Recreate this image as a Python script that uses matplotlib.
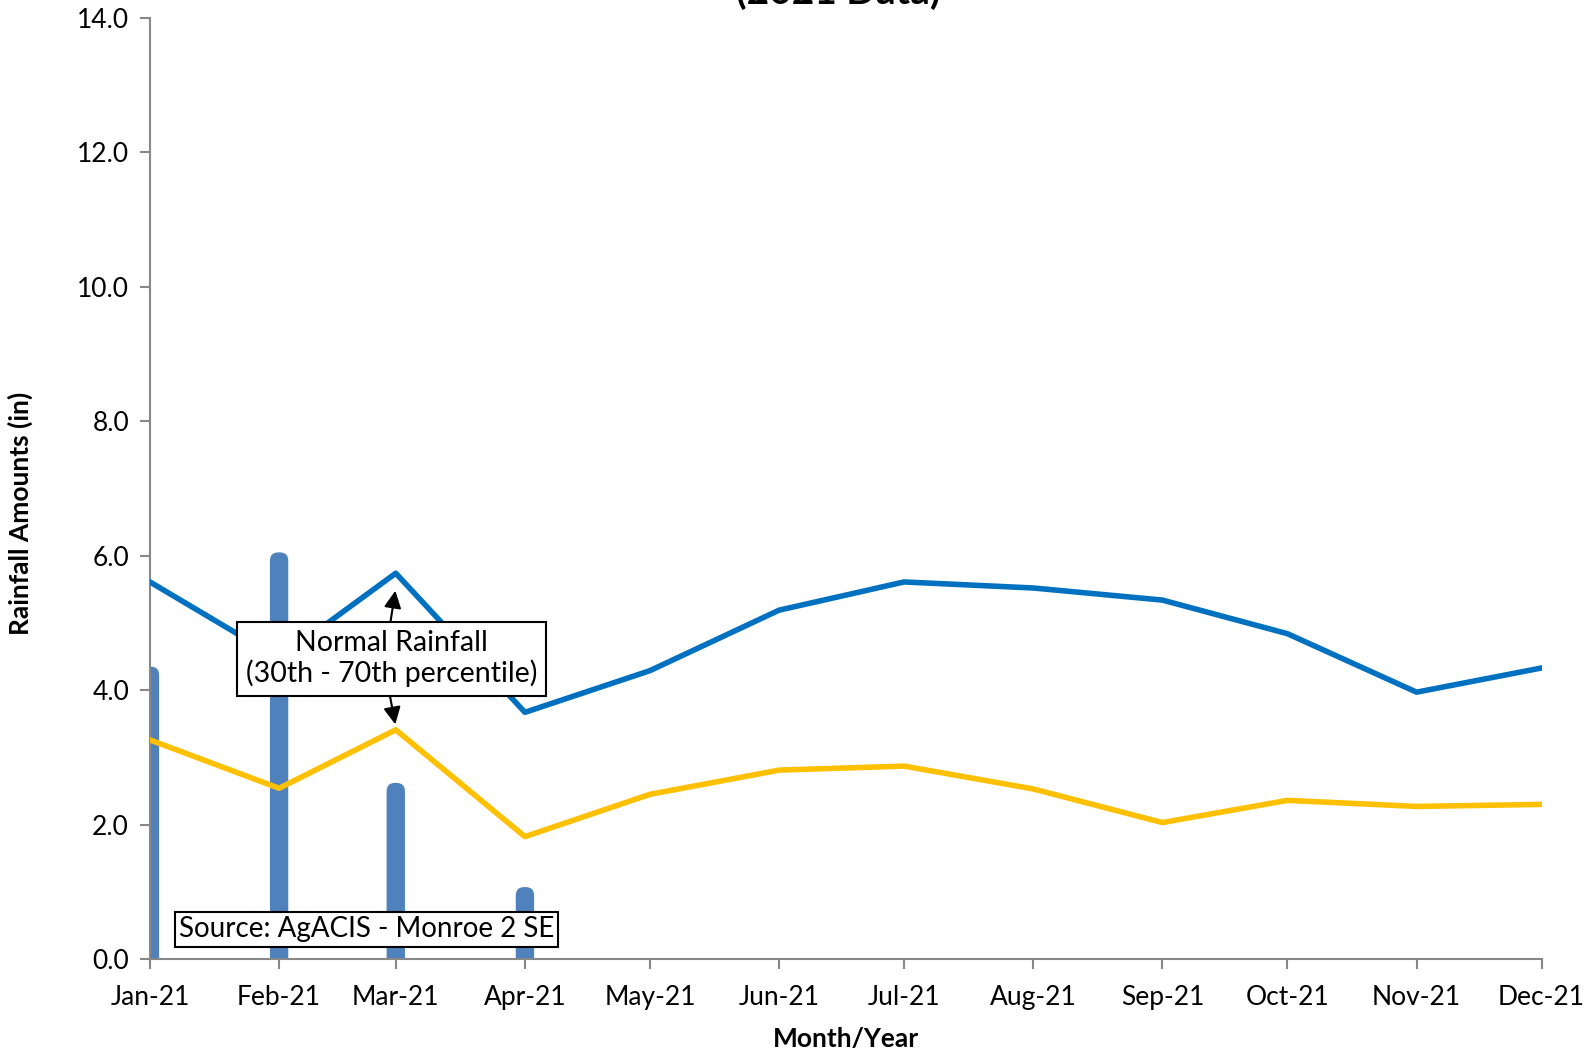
import matplotlib
matplotlib.use("Agg")
import matplotlib.pyplot as plt
from matplotlib.patches import FancyBboxPatch
from datetime import datetime

plt.rcParams['font.family'] = ['Lato', 'DejaVu Sans']

months = ['Jan-21', 'Feb-21', 'Mar-21', 'Apr-21', 'May-21', 'Jun-21',
          'Jul-21', 'Aug-21', 'Sep-21', 'Oct-21', 'Nov-21', 'Dec-21']
dates = [datetime(2021, m, 1) for m in range(1, 13)]

# observed monthly rainfall (only Jan-Apr reported)
rain_dates = dates[:4]
rain = [4.35, 6.05, 2.62, 1.07]

# normal rainfall band
p70 = [5.61, 4.47, 5.74, 3.67, 4.29, 5.19, 5.61, 5.52, 5.34, 4.84, 3.97, 4.33]
p30 = [3.26, 2.54, 3.41, 1.82, 2.45, 2.81, 2.87, 2.53, 2.03, 2.36, 2.27, 2.30]

fig = plt.figure(figsize=(15.85, 10.62), dpi=100)
ax = fig.add_axes([0.0946, 0.097, 0.878, 0.886])

bars = ax.bar(rain_dates, rain, width=4.4, color='#4F81BD', zorder=2)
# swap the square bars for ones with rounded tops
for r in bars:
    x, y0, w, h = r.get_x(), r.get_y(), r.get_width(), r.get_height()
    p = FancyBboxPatch((x, y0 - 0.3), w, h + 0.3,
                       boxstyle='round,pad=0,rounding_size=2.0',
                       mutation_aspect=0.062, fc='#4F81BD', ec='none', zorder=2)
    ax.add_patch(p)
    r.set_visible(False)

ax.plot(dates, p70, color='#0070C0', lw=4, zorder=3)
ax.plot(dates, p30, color='#FFC000', lw=4, zorder=3)

ax.set_xlim(dates[0], dates[-1])
ax.set_ylim(0, 14)
yt = [0, 2, 4, 6, 8, 10, 12, 14]
ax.set_yticks(yt)
ax.set_yticklabels([f'{v:.1f}' for v in yt])
ax.set_xticks(dates)
ax.set_xticklabels(months)
ax.tick_params(labelsize=19, color='#888888', length=7, width=1.5)
ax.tick_params(axis='x', pad=12)
ax.tick_params(axis='y', pad=8)

for s in ['top', 'right']:
    ax.spines[s].set_visible(False)
for s in ['left', 'bottom']:
    ax.spines[s].set_color('#888888')
    ax.spines[s].set_linewidth(1.5)

ax.set_xlabel('Month/Year', fontsize=19, fontweight='bold', labelpad=12)
ax.set_ylabel('Rainfall Amounts (in)', fontsize=19, fontweight='bold')
ax.yaxis.set_label_coords(-0.084, 0.474)

# annotation box with arrows
ax.text(datetime(2021, 2, 28), 4.47, 'Normal Rainfall\n(30th - 70th percentile)', ha='center',
        va='center', fontsize=20.5, linespacing=1.15, zorder=5,
        bbox=dict(boxstyle='square,pad=0.3', fc='white', ec='black', lw=1.5))
arrow = dict(arrowstyle='-|>', color='black', lw=1.5, mutation_scale=26)
ax.annotate('', xy=(datetime(2021, 3, 1), 5.52), xytext=(datetime(2021, 2, 27, 16), 4.99),
            arrowprops=arrow, zorder=6)
ax.annotate('', xy=(datetime(2021, 3, 1), 3.45), xytext=(datetime(2021, 2, 27, 12), 3.95),
            arrowprops=arrow, zorder=6)

ax.text(datetime(2021, 2, 22), 0.44, 'Source: AgACIS - Monroe 2 SE', ha='center',
        va='center', fontsize=20, zorder=5,
        bbox=dict(boxstyle='square,pad=0.15', fc='white', ec='black', lw=1.5))

fig.text(0.529, 1 - 4 / 1062, '(2021 Data)', ha='center', va='baseline',
         fontsize=28, fontweight='bold')

fig.savefig('out.png', dpi=100)
